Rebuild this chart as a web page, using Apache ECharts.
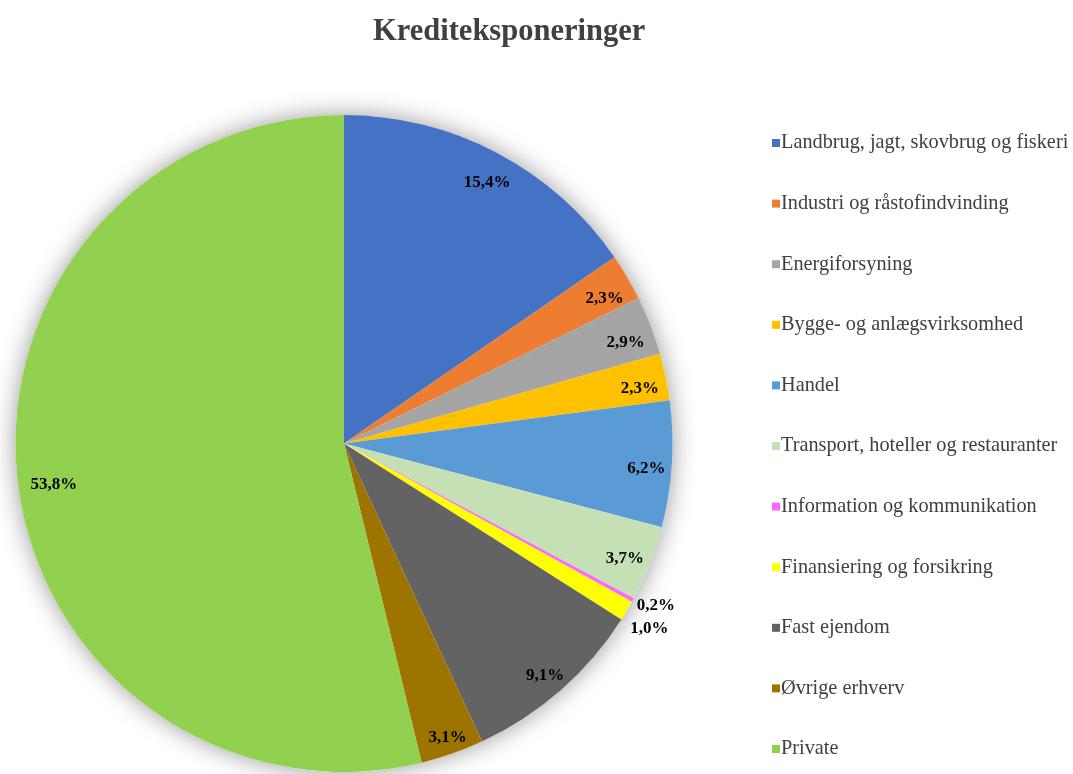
<!DOCTYPE html>
<html>
<head>
<meta charset="utf-8">
<script src="https://cdn.jsdelivr.net/npm/echarts@6/dist/echarts.min.js"></script>
<style>
html,body{margin:0;padding:0;background:#fff;}
#chart{width:1073px;height:774px;}
</style>
</head>
<body>
<div id="chart"></div>
<script>
const categories = [
  'Landbrug, jagt, skovbrug og fiskeri',
  'Industri og råstofindvinding',
  'Energiforsyning',
  'Bygge- og anlægsvirksomhed',
  'Handel',
  'Transport, hoteller og restauranter',
  'Information og kommunikation',
  'Finansiering og forsikring',
  'Fast ejendom',
  'Øvrige erhverv',
  'Private'
];
const values = [15.4, 2.3, 2.9, 2.3, 6.2, 3.7, 0.2, 1.0, 9.1, 3.1, 53.8];
const colors = ['#4472C4','#ED7D31','#A5A5A5','#FFC000','#5B9BD5','#C5E0B4','#FF66FF','#FFFF00','#636363','#9E7400','#92D050'];
const outsideLabels = ['Information og kommunikation','Finansiering og forsikring'];

const serif = '"Liberation Serif","Times New Roman",serif';
const center = [344, 443.5];
const R = 328.5;
const total = values.reduce((a,b)=>a+b,0);
const fmt = v => v.toFixed(1).replace('.', ',') + '%';

// "inside end"-style label placement (like the office chart): box kept just inside/outside the rim
function midDir(i) {
  let before = 0;
  for (let k = 0; k < i; k++) before += values[k];
  const a = (before + values[i] / 2) / total * Math.PI * 2;
  return [Math.sin(a), -Math.cos(a)];
}
function labelPos(i, w, h) {
  const [dx, dy] = midDir(i);
  const ext = Math.abs(dx) * w / 2 + Math.abs(dy) * h / 2;
  const outside = outsideLabels.includes(categories[i]);
  const d = outside ? R + 2 + ext : R - 9 - ext;
  return [center[0] + dx * d + 3, center[1] + dy * d + 6];
}

const chart = echarts.init(document.getElementById('chart'));
chart.setOption({
  animation: false,
  title: {
    text: 'Krediteksponeringer',
    left: 368,
    top: 12,
    textStyle: {fontFamily: serif, fontWeight: 'bold', fontSize: 30.5, color: '#404040'}
  },
  legend: {
    orient: 'vertical',
    left: 767,
    top: 126,
    data: categories,
    icon: 'rect',
    itemWidth: 8,
    itemHeight: 8,
    itemGap: 36.6,
    textStyle: {fontFamily: serif, fontSize: 20.3, color: '#404040', lineHeight: 24, padding: [0,0,0,-4]}
  },
  series: [
    {
      type: 'pie',
      name: 'main',
      center: center,
      radius: [0, R],
      startAngle: 90,
      clockwise: true,
      z: 3,
      silent: true,
      avoidLabelOverlap: false,
      label: {
        show: true,
        position: 'inside',
        formatter: p => fmt(p.value),
        fontFamily: serif, fontWeight: 'bold', fontSize: 17, color: '#000',
        align: 'center', verticalAlign: 'middle'
      },
      labelLine: {show: false},
      labelLayout: function (params) {
        if (params.seriesIndex !== 0) return {};
        const i = params.dataIndex;
        const w = params.labelRect.width, h = params.labelRect.height;
        let [x, y] = labelPos(i, w, h);
        const oi = outsideLabels.indexOf(categories[i]);
        if (oi >= 0 && oi < outsideLabels.length - 1) {
          const j = categories.indexOf(outsideLabels[oi + 1]);
          const [, yn] = labelPos(j, w, h);
          if (Math.abs(y - yn) < h + 6) y = yn - (h + 6);
        }
        return {x: x, y: y, align: 'center', verticalAlign: 'middle'};
      },
      data: categories.map((c,i)=>({name: c, value: values[i], itemStyle: {color: colors[i]}}))
    },
    {
      type: 'pie',
      name: 'shadow',
      center: center,
      radius: [0, R],
      z: 1,
      silent: true,
      label: {show: false},
      labelLine: {show: false},
      itemStyle: {color: '#ffffff', shadowBlur: 24, shadowColor: 'rgba(0,0,0,0.4)'},
      data: [{name: '__total', value: total}]
    }
  ]
});
</script>
</body>
</html>
